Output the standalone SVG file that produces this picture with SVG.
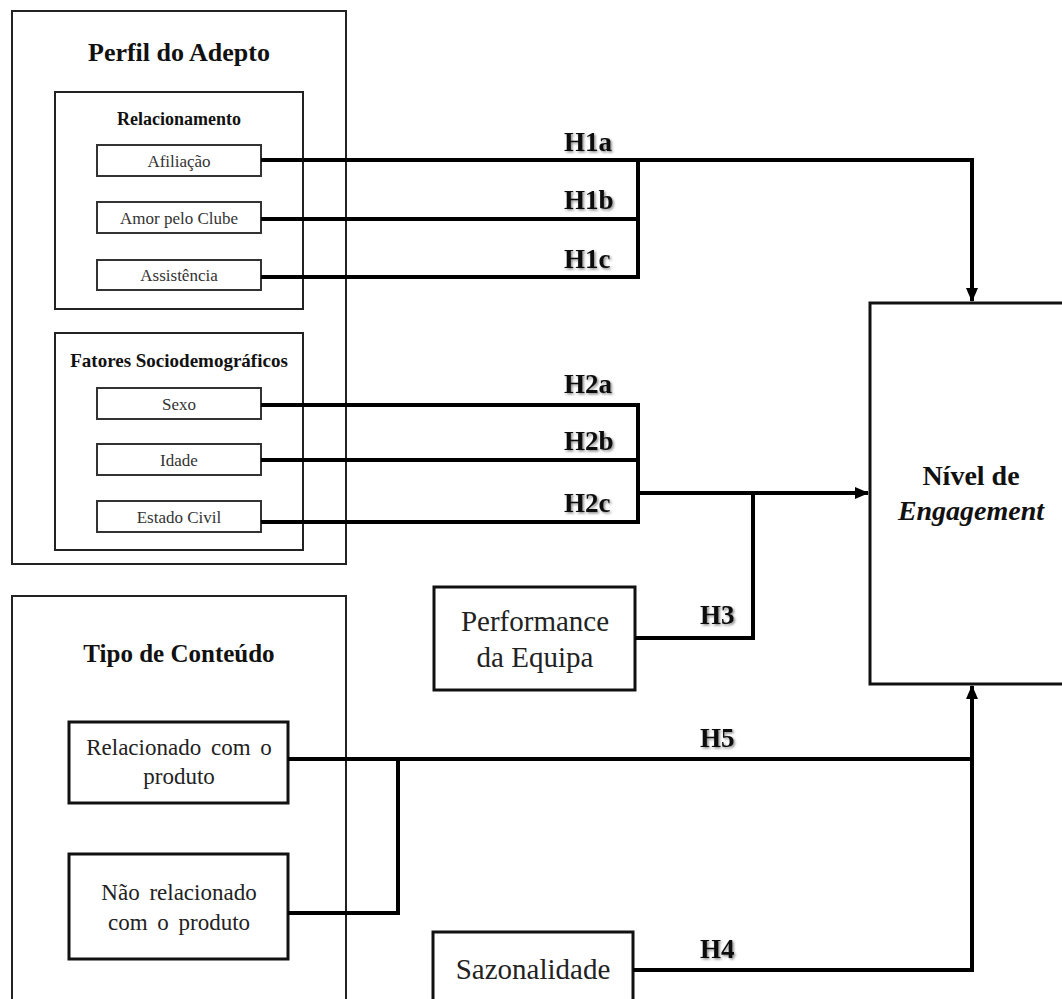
<svg xmlns="http://www.w3.org/2000/svg" width="1062" height="999" viewBox="0 0 1062 999">
<defs>
<style>
.box{fill:none;stroke:#222;stroke-width:2}
.sbox{fill:#fff;stroke:#333;stroke-width:2}
.nbox{fill:#fff;stroke:#111;stroke-width:3}
.conn{fill:none;stroke:#000;stroke-width:4}
.t{font-family:"Liberation Serif","Times New Roman",serif;fill:#111}
.title{font-weight:bold;text-anchor:middle}
.small{font-size:17px;text-anchor:middle;fill:#333}
.mid{font-size:23px;text-anchor:middle;fill:#222;word-spacing:4px}
.big{font-size:29px;text-anchor:middle;fill:#222}
.lab{font-family:"Liberation Serif","Times New Roman",serif;font-weight:bold;font-size:27px;fill:#111;filter:url(#sh)}
</style>
<filter id="sh" x="-20%" y="-20%" width="140%" height="140%">
<feDropShadow dx="1.5" dy="1.5" stdDeviation="1" flood-color="#000" flood-opacity="0.45"/>
</filter>
<marker id="ah" markerWidth="14" markerHeight="12" refX="13" refY="6" orient="auto" markerUnits="userSpaceOnUse" viewBox="0 0 14 12">
<path d="M0,0 L14,6 L0,12 z" fill="#000"/>
</marker>
</defs>
<rect width="1062" height="999" fill="#fff"/>

<g id="perfil">
<rect class="box" x="12" y="11" width="334" height="553"/>
<text class="t title" x="179" y="61" font-size="26">Perfil do Adepto</text>
</g>
<g id="relacionamento">
<rect class="box" x="55" y="92" width="248" height="217"/>
<text class="t title" x="179" y="125" font-size="18">Relacionamento</text>
</g>
<g id="afiliacao">
<rect class="sbox" x="97" y="145" width="164" height="31"/>
<text class="t small" x="179" y="167">Afiliação</text>
</g>
<g id="amor">
<rect class="sbox" x="97" y="202" width="164" height="31"/>
<text class="t small" x="179" y="224">Amor pelo Clube</text>
</g>
<g id="assistencia">
<rect class="sbox" x="97" y="260" width="164" height="30"/>
<text class="t small" x="179" y="281">Assistência</text>
</g>
<g id="fatores">
<rect class="box" x="55" y="333" width="248" height="217"/>
<text class="t title" x="179" y="367" font-size="19">Fatores Sociodemográficos</text>
</g>
<g id="sexo">
<rect class="sbox" x="97" y="388" width="164" height="31"/>
<text class="t small" x="179" y="410">Sexo</text>
</g>
<g id="idade">
<rect class="sbox" x="97" y="444" width="164" height="31"/>
<text class="t small" x="179" y="466">Idade</text>
</g>
<g id="estado">
<rect class="sbox" x="97" y="501" width="164" height="31"/>
<text class="t small" x="179" y="523">Estado Civil</text>
</g>

<g id="tipo">
<rect class="box" x="12" y="596" width="334" height="420"/>
<text class="t title" x="179" y="662" font-size="25">Tipo de Conteúdo</text>
</g>
<g id="relacionado">
<rect class="nbox" x="69" y="722" width="219" height="81"/>
<text class="t mid" x="179" y="755">Relacionado com o</text>
<text class="t mid" x="179" y="784">produto</text>
</g>
<g id="naorelacionado">
<rect class="nbox" x="69" y="854" width="219" height="105"/>
<text class="t mid" x="179" y="900">Não relacionado</text>
<text class="t mid" x="179" y="930">com o produto</text>
</g>

<g id="performance">
<rect class="nbox" x="434" y="587" width="201" height="103"/>
<text class="t big" x="535" y="631">Performance</text>
<text class="t big" x="535" y="667">da Equipa</text>
</g>
<g id="sazonalidade">
<rect class="nbox" x="433" y="932" width="200" height="80"/>
<text class="t big" x="533" y="979">Sazonalidade</text>
</g>
<g id="engagement">
<rect class="nbox" x="870" y="303" width="205" height="381"/>
<text class="t" x="971" y="485" font-size="28" font-weight="bold" text-anchor="middle" fill="#222">Nível de</text>
<text class="t" x="971" y="520" font-size="28" font-weight="bold" font-style="italic" text-anchor="middle" fill="#222">Engagement</text>
</g>

<g id="connectors">
<path class="conn" d="M261,160 H972 V301" marker-end="url(#ah)"/>
<path class="conn" d="M261,219 H638"/>
<path class="conn" d="M261,277 H638 V160"/>
<path class="conn" d="M261,405 H638 V522 H261"/>
<path class="conn" d="M261,460 H638"/>
<path class="conn" d="M638,493 H868" marker-end="url(#ah)"/>
<path class="conn" d="M635,638 H753 V493"/>
<path class="conn" d="M288,759 H972"/>
<path class="conn" d="M288,913 H398 V759"/>
<path class="conn" d="M633,970 H972 V686" marker-end="url(#ah)"/>
<text class="lab" x="564" y="151">H1a</text>
<text class="lab" x="564" y="209">H1b</text>
<text class="lab" x="564" y="268">H1c</text>
<text class="lab" x="564" y="393">H2a</text>
<text class="lab" x="564" y="450">H2b</text>
<text class="lab" x="564" y="512">H2c</text>
<text class="lab" x="700" y="624">H3</text>
<text class="lab" x="700" y="747">H5</text>
<text class="lab" x="700" y="958">H4</text>
</g>
</svg>
